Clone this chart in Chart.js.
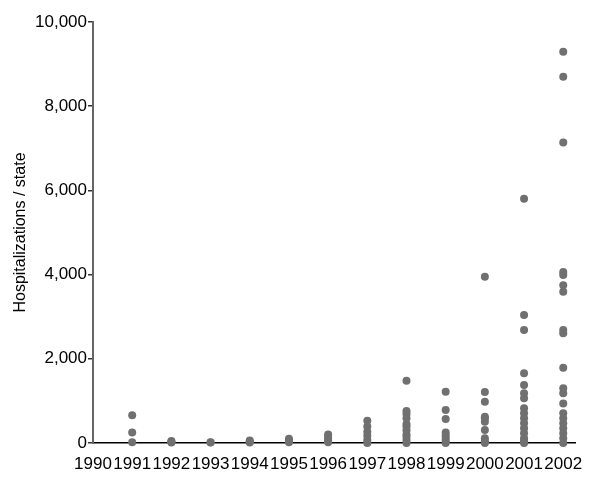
<!DOCTYPE html>
<html>
<head>
<meta charset="utf-8">
<script src="https://cdn.jsdelivr.net/npm/chart.js@4/dist/chart.umd.min.js"></script>
<style>
  html, body { margin: 0; padding: 0; background: #fff; }
  #wrap { width: 600px; height: 492px; }
</style>
</head>
<body>
<div id="wrap"><canvas id="chart"></canvas></div>
<script>
// tick labels for the year axis
const years = [1990, 1991, 1992, 1993, 1994, 1995, 1996, 1997, 1998, 1999, 2000, 2001, 2002]
const yTicks = [0, 2000, 4000, 6000, 8000, 10000]

// hospitalizations per state, one list per year
const y1991 = [660, 250, 20]
const y1992 = [50, 30, 10]
const y1993 = [20, 10]
const y1994 = [60, 30, 10]
const y1995 = [100, 60, 20]
const y1996 = [200, 150, 100, 60, 20]
const y1997 = [530, 390, 270, 170, 70, 0]
const y1998 = [1480, 760, 690, 585, 450, 390, 300, 200, 150, 70, 0]
const y1999 = [1220, 785, 570, 250, 180, 120, 60, 0]
const y2000 = [3950, 1210, 980, 625, 585, 505, 310, 110, 40, 0]
const y2001 = [5800, 3040, 2685, 1655, 1380, 1180, 1060, 825, 705, 585, 470, 350, 230, 110, 40, 0]
const y2002 = [9295, 8700, 7140, 4060, 3990, 3750, 3595, 2685, 2605, 1790, 1300, 1180, 940, 705, 585, 470, 350, 230, 110, 0]

const byYear = {
  1991: y1991, 1992: y1992, 1993: y1993, 1994: y1994, 1995: y1995, 1996: y1996,
  1997: y1997, 1998: y1998, 1999: y1999, 2000: y2000, 2001: y2001, 2002: y2002
}

const points = []
Object.keys(byYear).forEach(yr => {
  byYear[yr].forEach(v => points.push({ x: Number(yr), y: v }))
})

const font = { family: 'Liberation Sans, Arial, sans-serif', size: 17 }

new Chart(document.getElementById('chart'), {
  type: 'scatter',
  data: {
    datasets: [{
      data: points,
      backgroundColor: 'rgb(112,112,112)',
      borderWidth: 0,
      pointRadius: 4,
      pointHoverRadius: 4,
      clip: false
    }]
  },
  options: {
    responsive: true,
    maintainAspectRatio: false,
    animation: false,
    layout: { padding: { top: 22, right: 25, bottom: 0, left: 0 } },
    plugins: { legend: { display: false }, tooltip: { enabled: false } },
    scales: {
      x: {
        type: 'linear',
        min: 1990,
        max: 2002.3,
        afterBuildTicks: (axis) => { axis.ticks = years.map(v => ({ value: v })) },
        afterFit: (axis) => { axis.height = 49 },
        grid: { display: false, drawTicks: false },
        border: { display: true, color: '#000', width: 1.5 },
        ticks: {
          color: '#000',
          font: font,
          padding: 11,
          maxRotation: 0,
          autoSkip: false,
          callback: (v) => String(v)
        }
      },
      y: {
        min: 0,
        max: 10000,
        afterBuildTicks: (axis) => { axis.ticks = yTicks.map(v => ({ value: v })) },
        afterFit: (axis) => { axis.width = 93 },
        grid: { drawOnChartArea: false, drawTicks: true, tickLength: 5, color: '#333', lineWidth: 1.5 },
        border: { display: true, color: '#666', width: 2 },
        ticks: {
          color: '#000',
          font: font,
          padding: 1,
          callback: (v) => v.toLocaleString('en-US')
        },
        title: {
          display: true,
          text: 'Hospitalizations / state',
          color: '#000',
          font: { family: 'Liberation Sans, Arial, sans-serif', size: 16 },
          padding: { top: 11, bottom: 0 }
        }
      }
    }
  }
})
</script>
</body>
</html>
